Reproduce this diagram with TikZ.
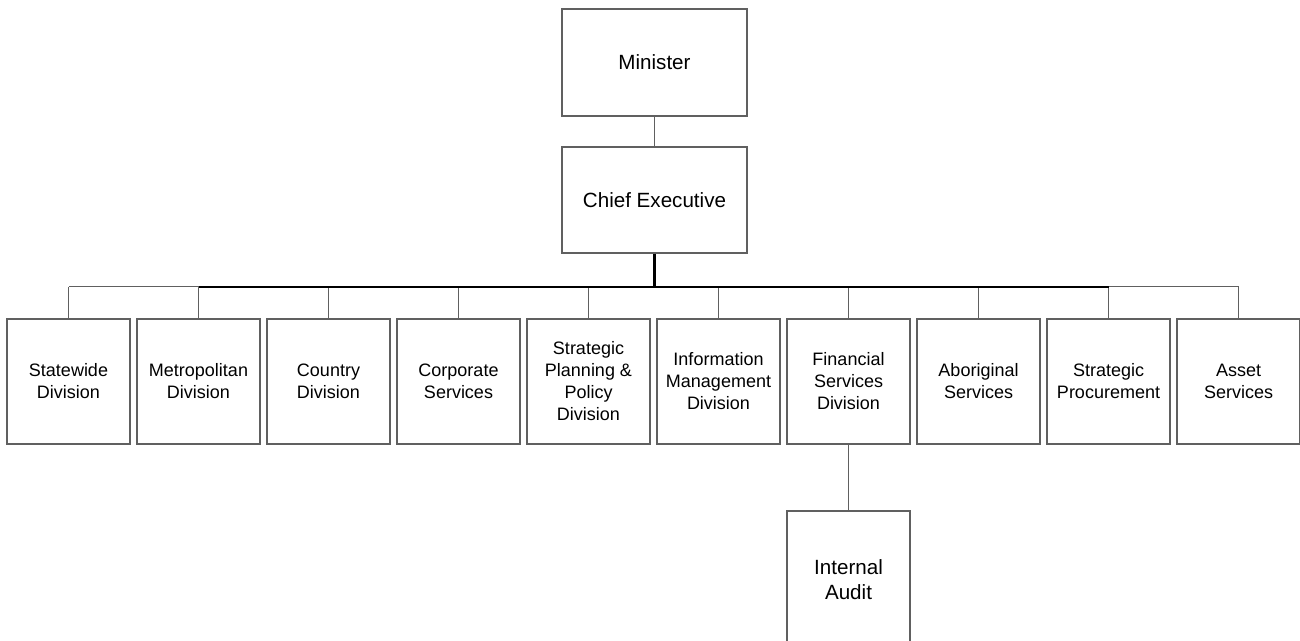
\documentclass[tikz,border=0pt]{standalone}
\usepackage{fontspec}
\setmainfont{Liberation Sans}

\definecolor{linegrey}{RGB}{96,96,96}

\tikzset{
  unit/.style={draw=linegrey, line width=0.7pt, minimum width=61.5pt,
    minimum height=62.5pt, inner sep=0pt, align=center,
    font=\fontsize{9}{11}\selectfont},
  bigunit/.style={unit, font=\fontsize{10.3}{12.5}\selectfont},
  link/.style={draw=linegrey, line width=0.5pt},
  trunk/.style={draw=black, line width=1.2pt}
}

\begin{document}
\begin{tikzpicture}[x=0.5pt, y=-0.5pt]
    \useasboundingbox (0,0) rectangle (1300,641);
    \clip (0,0) rectangle (1300,641);
    % top of the chart
    \node[bigunit, minimum width=92.5pt, minimum height=53.5pt] (min) at (654.5,62.5) {Minister};
    \node[bigunit, minimum width=92.5pt, minimum height=53pt] (ce) at (654.5,200) {Chief Executive};
    \coordinate (bus) at (654.5,287);
    % the ten divisions
    \foreach \name/\txt [count=\i from 0] in {swd/Statewide\\Division, mpd/Metropolitan\\Division,
        ctd/Country\\Division, cps/Corporate\\Services, spp/Strategic\\Planning \&\\Policy\\Division,
        imd/Information\\Management\\Division, fsd/Financial\\Services\\Division,
        abs/Aboriginal\\Services, spr/Strategic\\Procurement, ast/Asset\\Services}
      \node[unit] (\name) at (68.5+130*\i,381.5) {\txt};
    \node[bigunit, minimum height=69pt] (ia) at (848.5,580) {Internal\\Audit};
    % connectors
    \draw[link] (min) -- (ce);
    \draw[trunk] (ce) -- (bus);
    \foreach \name in {swd,mpd,ctd,cps,spp,imd,fsd,abs,spr,ast}
      \draw[link] (\name.north) -- (\name.north |- bus);
    \draw[link] (swd.north |- bus) -- (mpd.north |- bus);
    \draw[trunk] (mpd.north |- bus) -- (spr.north |- bus);
    \draw[link] (spr.north |- bus) -- (ast.north |- bus);
    \draw[link] (fsd) -- (ia);
  \end{tikzpicture}
\end{document}
